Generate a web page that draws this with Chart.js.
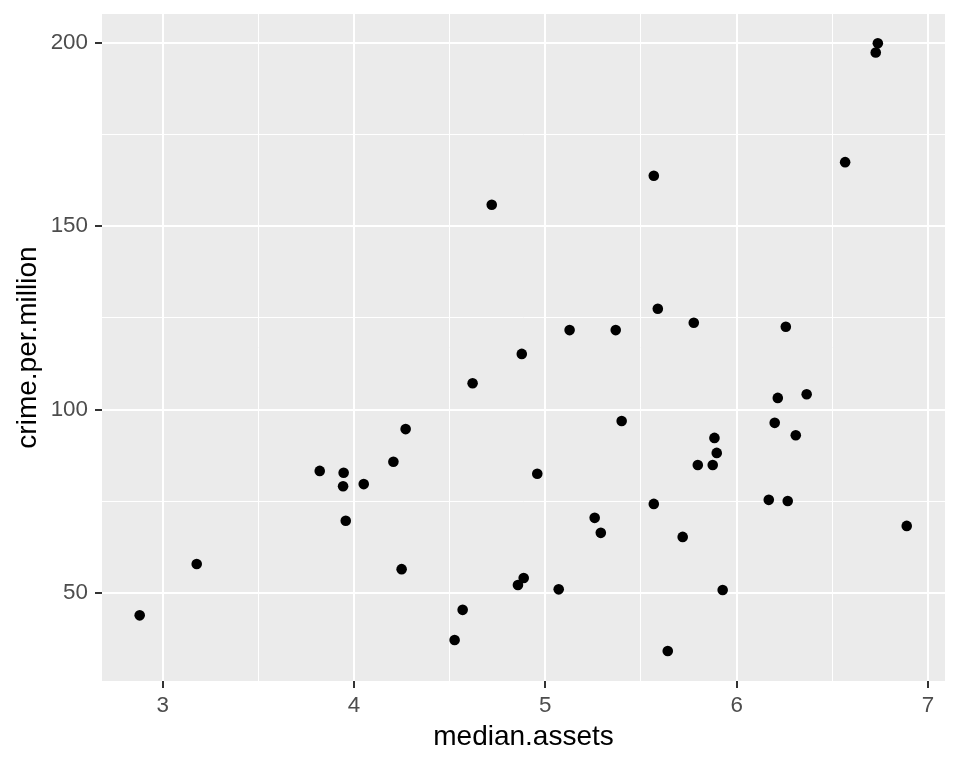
<!DOCTYPE html>
<html>
<head>
<meta charset="utf-8">
<script src="https://cdn.jsdelivr.net/npm/chart.js@4/dist/chart.umd.min.js"></script>
<style>
  html, body { margin: 0; padding: 0; background: #fff; }
  #wrap { width: 960px; height: 768px; }
</style>
</head>
<body>
<div id="wrap"><canvas id="plot" width="960" height="768"></canvas></div>
<script>
// values
const medianAssets = [
  2.880, 3.178, 3.821, 3.946, 3.943, 4.051, 4.206, 4.270, 3.957, 4.249,
  4.526, 4.568, 4.857, 4.887, 4.958, 5.070, 5.258, 5.290, 5.399, 5.567,
  5.640, 5.718, 5.797, 5.875, 5.884, 5.896, 5.927, 6.168, 6.199, 6.738,
  6.727, 6.567, 4.720, 5.567, 5.588, 5.776, 5.127, 5.368, 4.877, 4.620,
  6.257, 6.215, 6.366, 6.309, 6.267, 6.889
];
const crimePerMillion = [
  43.9, 57.9, 83.3, 82.8, 79.1, 79.7, 85.8, 94.7, 69.7, 56.5,
  37.2, 45.4, 52.2, 54.1, 82.5, 51.0, 70.5, 66.4, 96.9, 74.3,
  34.2, 65.3, 84.9, 84.9, 92.3, 88.2, 50.8, 75.4, 96.4, 199.9,
  197.4, 167.5, 155.9, 163.8, 127.5, 123.7, 121.7, 121.7, 115.2, 107.2,
  122.6, 103.2, 104.2, 93.0, 75.1, 68.3
];

// grid lines: labelled (major) and in-between (minor)
const xMajorTicks = [3, 4, 5, 6, 7];
const xMinorTicks = [3.5, 4.5, 5.5, 6.5];
const yMajorTicks = [50, 100, 150, 200];
const yMinorTicks = [75, 125, 175];

const xRange = [2.683, 7.089];
const yRange = [26.0, 207.9];

const points = medianAssets.map((x, i) => ({ x, y: crimePerMillion[i] }));

const panelBg = {
  id: 'panelBg',
  beforeDraw(chart) {
    const { ctx, chartArea: a } = chart;
    ctx.save();
    ctx.fillStyle = '#EBEBEB';
    ctx.fillRect(a.left, a.top, a.right - a.left, a.bottom - a.top);
    ctx.restore();
  }
};

function ggAxis(major, minor, range, extra) {
  const isMajor = (v) => major.includes(v);
  return Object.assign({
    type: 'linear',
    min: range[0],
    max: range[1],
    afterBuildTicks: (scale) => {
      scale.ticks = major.concat(minor).sort((a, b) => a - b).map((v) => ({ value: v }));
    },
    border: { display: false },
    grid: {
      color: '#FFFFFF',
      lineWidth: (c) => (c.tick && isMajor(c.tick.value) ? 2 : 1),
      tickColor: (c) => (c.tick && isMajor(c.tick.value) ? '#333333' : 'rgba(0,0,0,0)'),
      tickWidth: 2,
      tickLength: 7,
      drawTicks: true,
    },
  }, extra);
}

const tickFont = { family: '"Liberation Sans", Arial, sans-serif', size: 22.4 };
const titleFont = { family: '"Liberation Sans", Arial, sans-serif', size: 28 };

new Chart(document.getElementById('plot'), {
  type: 'scatter',
  data: {
    datasets: [{
      data: points,
      backgroundColor: '#000000',
      borderColor: '#000000',
      borderWidth: 0,
      pointRadius: 5.3,
      pointHoverRadius: 5.3,
    }],
  },
  options: {
    responsive: false,
    animation: false,
    devicePixelRatio: 1,
    layout: { padding: { top: 14, right: 15, left: 0, bottom: 0 } },
    plugins: { legend: { display: false }, tooltip: { enabled: false } },
    scales: {
      x: ggAxis(xMajorTicks, xMinorTicks, xRange, {
        position: 'bottom',
        afterFit: (s) => { s.height = 87; s.paddingLeft = 0; s.paddingRight = 0; },
        ticks: {
          color: '#4D4D4D',
          font: tickFont,
          padding: 4,
          maxRotation: 0,
          autoSkip: false,
          callback: (v) => (xMajorTicks.includes(v) ? String(v) : ''),
        },
        title: {
          display: true,
          text: 'median.assets',
          color: '#000000',
          font: titleFont,
          padding: { top: 0, bottom: 14 },
        },
      }),
      y: ggAxis(yMajorTicks, yMinorTicks, yRange, {
        position: 'left',
        afterFit: (s) => { s.width = 102; s.paddingTop = 0; s.paddingBottom = 0; },
        ticks: {
          color: '#4D4D4D',
          font: tickFont,
          padding: 7,
          autoSkip: false,
          callback: (v) => (yMajorTicks.includes(v) ? String(v) : ''),
        },
        title: {
          display: true,
          text: 'crime.per.million',
          color: '#000000',
          font: titleFont,
          padding: { top: 11, bottom: 0 },
        },
      }),
    },
  },
  plugins: [panelBg],
});
</script>
</body>
</html>
